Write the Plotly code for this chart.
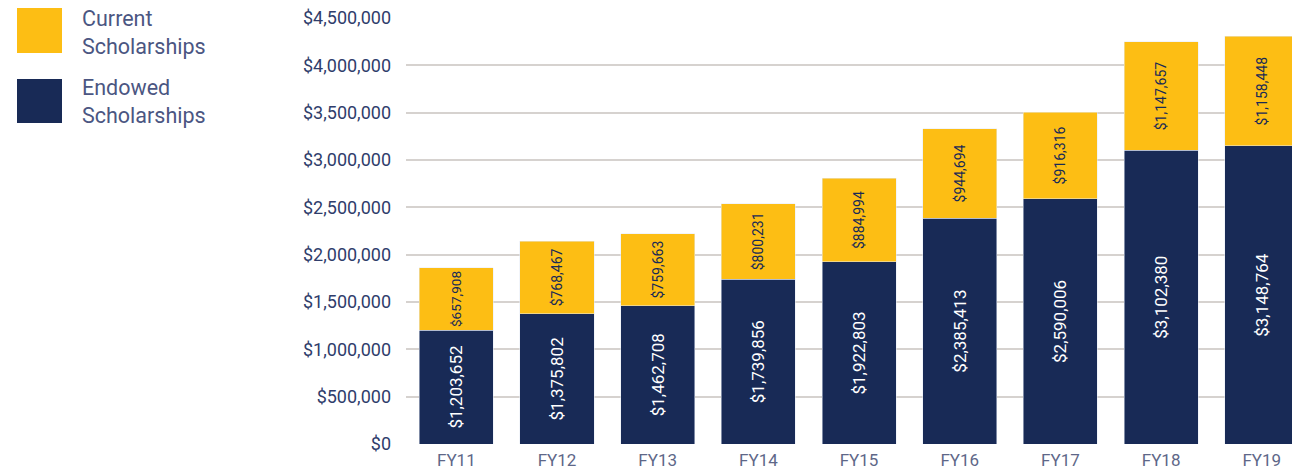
import plotly.graph_objects as go

categories = ["FY11", "FY12", "FY13", "FY14", "FY15", "FY16", "FY17", "FY18", "FY19"]
endowed = [1203652, 1375802, 1462708, 1739856, 1922803, 2385413, 2590006, 3102380, 3148764]
current = [657908, 768467, 759663, 800231, 884994, 944694, 916316, 1147657, 1158448]
y_ticks = [0, 500000, 1000000, 1500000, 2000000, 2500000, 3000000, 3500000, 4000000, 4500000]
y_tick_labels = ["$0", "$500,000", "$1,000,000", "$1,500,000", "$2,000,000", "$2,500,000",
                 "$3,000,000", "$3,500,000", "$4,000,000", "$4,500,000"]

YELLOW = "#FDBE14"
NAVY = "#182A56"
TEXTC = "#4B5682"

fig = go.Figure()
fig.add_bar(x=categories, y=endowed, name="Endowed Scholarships", marker_color=NAVY,
            text=[f"${v:,}" for v in endowed], textposition="inside", textangle=-90,
            insidetextanchor="middle",
            textfont=dict(color="white", size=17, family="Roboto"))
fig.add_bar(x=categories, y=current, name="Current Scholarships", marker_color=YELLOW,
            text=[f"${v:,}" for v in current], textposition="inside", textangle=-90,
            insidetextanchor="middle",
            textfont=dict(color=NAVY, size=14, family="Roboto"))

W0, W = 406, 886
H0, H = 444, 426
def px(x):
    return (x - W0) / W
def py(y):
    return (H0 - y) / H

shapes = [
    dict(type="rect", xref="paper", yref="paper", x0=px(17), x1=px(62), y0=py(53), y1=py(8),
         fillcolor=YELLOW, line_width=0),
    dict(type="rect", xref="paper", yref="paper", x0=px(17), x1=px(62), y0=py(123), y1=py(79),
         fillcolor=NAVY, line_width=0),
]
annotations = [
    dict(xref="paper", yref="paper", x=px(80), y=py(32), xanchor="left", yanchor="middle",
         text="Current<br>Scholarships", showarrow=False, align="left",
         font=dict(size=21.5, color=TEXTC, family="Roboto")),
    dict(xref="paper", yref="paper", x=px(80), y=py(102), xanchor="left", yanchor="middle",
         text="Endowed<br>Scholarships", showarrow=False, align="left",
         font=dict(size=21.5, color=TEXTC, family="Roboto")),
]

fig.update_layout(
    width=1292, height=473,
    barmode="stack", bargap=0.264,
    showlegend=False,
    plot_bgcolor="white", paper_bgcolor="white",
    margin=dict(l=W0, r=0, t=18, b=29),
    shapes=shapes, annotations=annotations,
    uniformtext=dict(mode=False),
    xaxis=dict(range=[-0.5, 8.3], showgrid=False, zeroline=False, showline=False,
               ticks="", ticklabelstandoff=4,
               tickfont=dict(size=17, color="#5E6788", family="Roboto")),
    yaxis=dict(range=[0, 4500000], tickvals=y_ticks, ticktext=y_tick_labels,
               showgrid=True, gridcolor="#D6D2CF", gridwidth=1.5, zeroline=False,
               ticks="", ticklabelstandoff=14,
               tickfont=dict(size=18, color="#2F3D6B", family="Roboto")),
)

fig.write_html("out.html", config={"displayModeBar": False},
               post_script="document.body.style.margin='0';document.body.style.overflow='hidden';")
